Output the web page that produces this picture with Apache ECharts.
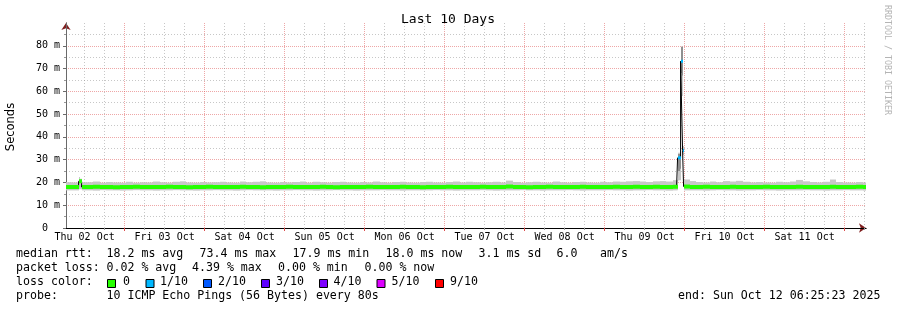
<!DOCTYPE html>
<html><head><meta charset="utf-8">
<script src="https://cdn.jsdelivr.net/npm/echarts@6/dist/echarts.min.js"></script>
<style>html,body{margin:0;padding:0;background:#fff}#c{width:897px;height:310px}</style>
</head><body><div id="c"></div><script>
// ---- data (hours since Thu 02 Oct 00:00) ----
const hours = [
 6.43, 8.5, 10.2, 10.6, 11.1,
 12.5,14.5,16.5,18.5,20.5,22.5,24.5,26.5,28.5,30.5,
 32.5,34.5,36.5,38.5,40.5,42.5,44.5,46.5,48.5,50.5,
 52.5,54.5,56.5,58.5,60.5,62.5,64.5,66.5,68.5,70.5,
 72.5,74.5,76.5,78.5,80.5,82.5,84.5,86.5,88.5,90.5,
 92.5,94.5,96.5,98.5,100.5,102.5,104.5,106.5,108.5,110.5,
 112.5,114.5,116.5,118.5,120.5,122.5,124.5,126.5,128.5,130.5,
 132.5,134.5,136.5,138.5,140.5,142.5,144.5,146.5,148.5,150.5,
 152.5,154.5,156.5,158.5,160.5,162.5,164.5,166.5,168.5,170.5,
 172.5,174.5,176.5,178.5,180.5,182.5,184.5,186.5,188.5,
 189.6,189.9,190.2,190.5,190.8,191.1,191.4,191.7,
 193.5,195.5,197.5,199.5,201.5,203.5,205.5,207.5,209.5,211.5,
 213.5,215.5,217.5,219.5,221.5,223.5,225.5,227.5,229.5,231.5,
 233.5,235.5,237.5,239.5,241.5,243.5,245.5,
 246.42
];
const median = [
 18.0,18.0,20.5,20.5,18.0,
 18.0,18.1,18.0,18.0,17.9,18.0,18.0,18.1,18.0,18.0,
 18.0,18.0,18.1,18.0,18.0,17.9,18.0,18.0,18.1,18.0,
 18.0,18.0,18.0,18.1,18.0,18.0,17.9,18.0,18.0,18.0,
 18.1,18.0,18.0,18.0,18.0,18.1,18.0,17.9,18.0,18.0,
 18.0,18.0,18.1,18.0,18.0,18.0,18.0,18.1,18.0,18.0,
 17.9,18.0,18.0,18.0,18.1,18.0,18.0,18.0,18.0,18.1,
 18.0,18.0,18.0,18.2,18.0,18.0,17.9,18.0,18.0,18.1,
 18.0,18.0,18.0,18.0,18.1,18.0,18.0,18.0,18.0,18.1,
 18.0,18.0,18.1,18.0,18.0,18.1,18.0,18.0,18.1,
 18.1,30.8,30.8,30.8,73.2,73.2,34.0,18.2,
 18.0,18.0,18.1,18.0,18.0,18.0,18.1,18.0,18.0,18.0,
 18.0,18.1,18.0,18.0,18.0,18.0,18.1,18.0,18.0,18.0,
 18.0,18.1,18.0,18.0,18.0,18.1,18.0,
 18.0
];
const lossTenths = [
 0,0,0,0,0,
 0,0,0,0,0,0,0,0,0,0,
 0,0,0,0,0,0,0,0,0,0,
 0,0,0,0,0,0,0,0,0,0,
 0,0,0,0,0,0,0,0,0,0,
 0,0,0,0,0,0,0,0,0,0,
 0,0,0,0,0,0,0,0,0,0,
 0,0,0,0,0,0,0,0,0,0,
 0,0,0,0,0,0,0,0,0,0,
 0,0,0,0,0,0,0,0,0,
 0,1,1,1,1,1,1,0,
 0,0,0,0,0,0,0,0,0,0,
 0,0,0,0,0,0,0,0,0,0,
 0,0,0,0,0,0,0,
 0
];
const smokeLo = [
 16.5,16.5,17.0,17.0,16.5,
 16.5,16.4,16.6,16.5,16.5,16.4,16.5,16.6,16.5,16.5,
 16.4,16.5,16.5,16.6,16.5,16.5,16.4,16.5,16.5,16.6,
 16.5,16.5,16.4,16.5,16.6,16.5,16.5,16.5,16.4,16.5,
 16.5,16.6,16.5,16.5,16.4,16.5,16.5,16.6,16.5,16.5,
 16.4,16.5,16.5,16.5,16.6,16.5,16.5,16.4,16.5,16.5,
 16.5,16.5,16.6,16.5,16.5,16.4,16.5,16.5,16.5,16.6,
 16.5,16.4,16.5,16.5,16.5,16.6,16.5,16.5,16.4,16.5,
 16.5,16.5,16.6,16.5,16.4,16.5,16.5,16.5,16.6,16.5,
 16.5,16.4,16.5,16.5,16.6,16.5,16.5,16.4,16.5,
 16.6,20.8,21.0,21.0,60.5,58.0,32.0,16.5,
 16.5,16.5,16.4,16.5,16.6,16.5,16.5,16.4,16.5,16.5,
 16.6,16.5,16.5,16.4,16.5,16.5,16.5,16.6,16.5,16.5,
 16.4,16.5,16.5,16.6,16.5,16.5,16.4,
 16.5
];
const smokeHi = [
 20.1,20.0,22.4,21.6,20.1,
 20.1,20.4,19.9,20.2,20.0,19.9,20.3,19.9,20.1,20.0,
 20.4,20.1,19.9,20.3,20.5,20.0,19.9,20.2,20.0,20.1,
 20.3,20.0,19.9,20.4,20.1,20.3,20.5,20.0,19.9,20.2,
 20.0,20.2,20.4,19.9,20.3,20.1,19.9,20.2,20.3,20.0,
 19.9,20.2,20.0,20.4,20.1,19.9,20.2,20.3,20.0,19.9,
 20.2,20.3,20.0,19.9,20.2,20.4,20.0,20.3,20.1,19.9,
 20.1,20.3,20.0,20.8,20.2,19.9,20.1,20.3,20.0,19.9,
 20.4,20.1,19.9,20.2,20.3,20.0,19.9,20.3,20.1,20.4,
 20.3,20.5,20.6,20.4,20.2,20.5,20.6,20.4,21.0,
 21.2,33.0,33.0,33.0,79.6,79.6,36.0,21.3,
 20.6,20.2,20.0,20.4,20.1,20.6,20.4,20.7,20.3,20.0,
 20.2,20.0,19.9,20.3,20.1,20.4,21.1,20.5,20.2,20.0,
 20.3,21.3,20.2,20.0,19.9,20.2,20.0,
 20.0
];
// darker inner smoke of the spike
const spikeHours = [189.9,190.2,190.5,190.8,191.1,191.4];
const spikeLo    = [25.0, 25.0, 26.0, 68.0, 67.0, 34.0];
const spikeHi    = [32.5, 32.5, 32.5, 79.6, 79.6, 34.0];

// ---- axis ticks / labels ----
const dayLabels = ['Thu 02 Oct','Fri 03 Oct','Sat 04 Oct','Sun 05 Oct','Mon 06 Oct','Tue 07 Oct','Wed 08 Oct','Thu 09 Oct','Fri 10 Oct','Sat 11 Oct'];
const noonHours = [12,36,60,84,108,132,156,180,204,228];
const midnightHours = [24,48,72,96,120,144,168,192,216,240];
const sixHourMarks = [];
for (let h = 12; h <= 246; h += 6) { if (h % 24 !== 0) sixHourMarks.push(h); }
const yMajor = [0,10,20,30,40,50,60,70,80];
const yMinor = [5,15,25,35,45,55,65,75,85];

// ---- legend texts ----
const lossLabels = ['0','1/10','2/10','3/10','4/10','5/10','9/10'];
const lossColors = ['#26ff00','#00b8ff','#0059ff','#5e00ff','#7e00ff','#dd00ff','#ff0000'];
const legendRows = [
 {y:254, items:[[16,'median rtt:'],[106.5,'18.2 ms avg'],[199.5,'73.4 ms max'],[292.5,'17.9 ms min'],[385.5,'18.0 ms now'],[478.5,'3.1 ms sd'],[556.5,'6.0'],[600,'am/s']]},
 {y:268, items:[[16,'packet loss:'],[106.5,'0.02 % avg'],[192,'4.39 % max'],[278,'0.00 % min'],[364.5,'0.00 % now']]},
 {y:282, items:[[16,'loss color:']]},
 {y:296, items:[[16,'probe:'],[106.5,'10 ICMP Echo Pings (56 Bytes) every 80s'],[678,'end: Sun Oct 12 06:25:23 2025']]}
];
const boxX = [107.5,146,203.5,261.5,319.5,377,435.5];
const boxLabelX = [123,160,218,276,333.5,391.5,450];

const MONO = '"DejaVu Sans Mono"';
const chart = echarts.init(document.getElementById('c'), null, {renderer:'canvas'});
const xMin = 6.4231, xMax = 246.4231;

// smoke cells: [start, lo, hi, end]
const smokeData = hours.slice(0,-1).map((h,i)=>[h, smokeLo[i], smokeHi[i], hours[i+1]]);
const darkData = spikeHours.slice(0,-1).map((h,i)=>[h, spikeLo[i], spikeHi[i], spikeHours[i+1]]);
const medData = hours.map((h,i)=>[h, median[i]]);
// loss-coloured median segments: [start, median, end, loss]
const segData = hours.slice(0,-1).map((h,i)=>[h, median[i], hours[i+1], lossTenths[i]]);

function smokeRender(color){
  return function(params, api){
    const a = api.coord([api.value(0), api.value(2)]);
    const b = api.coord([api.value(3), api.value(1)]);
    const x0 = Math.round(a[0]), x1 = Math.round(b[0]);
    return {type:'rect', shape:{x:x0, y:a[1], width:Math.max(1,x1-x0), height:b[1]-a[1]}, style:{fill:color}};
  };
}
function lossColorIndex(l){ return l <= 5 ? l : 6; }
function segRender(params, api){
  const l = api.value(3);
  const a = api.coord([api.value(0), api.value(1)]);
  const b = api.coord([api.value(2), api.value(1)]);
  const x0 = Math.round(a[0]), x1 = Math.max(Math.round(b[0]), x0+1);
  return {type:'line', shape:{x1:x0, y1:a[1], x2:x1, y2:a[1]}, style:{stroke:lossColors[lossColorIndex(l)], lineWidth: l===0 ? 4 : 3, lineCap:'butt'}};
}

const graphics = [];
graphics.push({type:'text', x:448, y:19.5, silent:true, style:{text:'Last 10 Days', font:'13px '+MONO, fill:'#000', align:'center', verticalAlign:'middle', textAlign:'center', textVerticalAlign:'middle'}});
graphics.push({type:'text', x:11, y:127, rotation:Math.PI/2, silent:true, style:{text:'Seconds', font:'11.5px "DejaVu Sans"', fill:'#000', align:'center', verticalAlign:'middle', textAlign:'center', textVerticalAlign:'middle'}});
graphics.push({type:'text', x:887, y:60, rotation:-Math.PI/2, silent:true, style:{text:'RRDTOOL / TOBI OETIKER', font:'8.3px '+MONO, fill:'#b4b4b4', align:'center', verticalAlign:'middle', textAlign:'center', textVerticalAlign:'middle'}});
legendRows.forEach(r=>r.items.forEach(it=>{
  graphics.push({type:'text', x:it[0], y:r.y, silent:true, style:{text:it[1], font:'11.6px '+MONO, fill:'#000', align:'left', verticalAlign:'middle', textAlign:'left', textVerticalAlign:'middle'}});
}));
lossLabels.forEach((lab,i)=>{
  graphics.push({type:'rect', silent:true, shape:{x:boxX[i], y:279.5, width:8, height:8}, style:{fill:lossColors[i], stroke:'#000', lineWidth:1}});
  graphics.push({type:'text', x:boxLabelX[i], y:282, silent:true, style:{text:lab, font:'11.6px '+MONO, fill:'#000', align:'left', verticalAlign:'middle', textAlign:'left', textVerticalAlign:'middle'}});
});

const redGrid = 'rgba(222,79,79,0.5)';
const greyGrid = 'rgba(143,143,143,0.5)';
const xCommon = {type:'value', min:xMin, max:xMax, gridIndex:0, position:'bottom'};
const yCommon = {type:'value', min:0, max:90, gridIndex:0, position:'left'};

chart.setOption({
  animation:false,
  backgroundColor:'#fff',
  grid:{left:66, right:31, top:23, bottom:82, containLabel:false},
  xAxis:[
    Object.assign({}, xCommon, {z:1,
      axisLine:{show:true, onZero:false, lineStyle:{color:'#000', width:1}},
      axisTick:{show:true, customValues:midnightHours, length:3, lineStyle:{color:'#de4f4f'}},
      axisLabel:{show:true, customValues:noonHours, formatter:v=>dayLabels[noonHours.indexOf(Math.round(v))]||'', fontFamily:'DejaVu Sans Mono', fontSize:10, color:'#000', margin:4},
      splitLine:{show:true, lineStyle:{color:redGrid, width:1, type:[1,1]}}}),
    Object.assign({}, xCommon, {z:1,
      axisLine:{show:false, onZero:false},
      axisTick:{show:true, customValues:sixHourMarks, length:2, lineStyle:{color:'#999'}},
      axisLabel:{show:false},
      splitLine:{show:true, lineStyle:{color:greyGrid, width:1, type:[1,2]}}}),
    Object.assign({}, xCommon, {z:0,
      axisLine:{show:true, onZero:false, symbol:['none','arrow'], symbolSize:[7,7], lineStyle:{color:'#801f1f', width:1}},
      axisTick:{show:false}, axisLabel:{show:false}, splitLine:{show:false}})
  ],
  yAxis:[
    Object.assign({}, yCommon, {z:1,
      axisLine:{show:true, onZero:false, lineStyle:{color:'#6a6a6a', width:1}},
      axisTick:{show:true, customValues:yMajor, length:3, lineStyle:{color:'#6a6a6a'}},
      axisLabel:{show:true, customValues:yMajor, formatter:v=>v===0?'0  ':(v+' m'), fontFamily:'DejaVu Sans Mono', fontSize:10, color:'#000', margin:6},
      splitLine:{show:true, lineStyle:{color:redGrid, width:1, type:[1,1]}}}),
    Object.assign({}, yCommon, {z:1,
      axisLine:{show:false, onZero:false},
      axisTick:{show:true, customValues:yMinor, length:2, lineStyle:{color:'#999'}},
      axisLabel:{show:false},
      splitLine:{show:true, lineStyle:{color:greyGrid, width:1, type:[1,2]}}}),
    Object.assign({}, yCommon, {z:0,
      axisLine:{show:true, onZero:false, symbol:['none','arrow'], symbolSize:[7,7], lineStyle:{color:'#801f1f', width:1}},
      axisTick:{show:false}, axisLabel:{show:false}, splitLine:{show:false}})
  ],
  series:[
    {type:'custom', name:'smoke', data:smokeData, renderItem:smokeRender('#c8c8c8'), encode:{x:[0,3], y:[1,2]}, silent:true, z:2, clip:true},
    {type:'custom', name:'smoke inner', data:darkData, renderItem:smokeRender('#8f8f8f'), encode:{x:[0,3], y:[1,2]}, silent:true, z:2, clip:true},
    {type:'line', name:'median', data:medData, step:'end', symbol:'none', silent:true, z:3, lineStyle:{color:'#000', width:1}},
    {type:'custom', name:'median by loss', data:segData, renderItem:segRender, encode:{x:[0,2], y:1}, silent:true, z:4, clip:true}
  ],
  graphic:{elements:graphics}
});
</script></body></html>
